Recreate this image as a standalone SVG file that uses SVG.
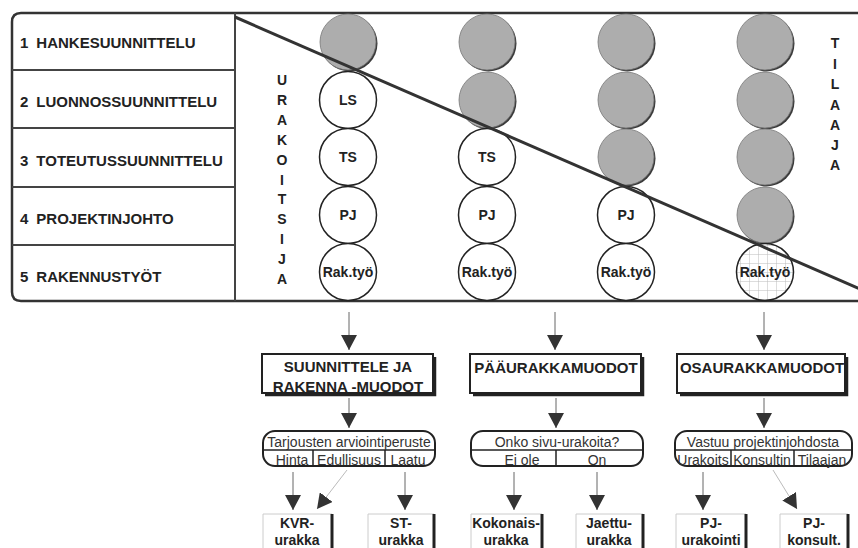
<svg xmlns="http://www.w3.org/2000/svg" width="858" height="548" viewBox="0 0 858 548">
<defs>
  <style>
    .frame { fill: none; stroke: #333; stroke-width: 2.5; }
    .div { stroke: #444; stroke-width: 2; }
    .lbl { font-family: "Liberation Sans", Arial, sans-serif; font-weight: bold; font-size: 15px; fill: #222; }
    .vl { font-family: "Liberation Sans", Arial, sans-serif; font-weight: bold; font-size: 14px; fill: #222; text-anchor: middle; }
    .ct { font-family: "Liberation Sans", Arial, sans-serif; font-weight: bold; font-size: 14px; fill: #222; text-anchor: middle; }
    .wc { fill: #fff; stroke: #222; stroke-width: 1.5; }
    .gc { fill: #adadad; stroke: #777; stroke-width: 0.8; }
    .gs { fill: #3a3a3a; }
    .bt { font-family: "Liberation Sans", Arial, sans-serif; font-weight: bold; font-size: 15px; fill: #222; text-anchor: middle; }
    .box { fill: #fff; stroke: #222; stroke-width: 2; }
    .shadow { fill: none; stroke: #222; stroke-width: 2.5; }
    .dec { fill: #fff; stroke: #222; stroke-width: 2; }
    .dl { stroke: #222; stroke-width: 1.5; }
    .dt { font-family: "Liberation Sans", Arial, sans-serif; font-size: 14px; fill: #333; text-anchor: middle; }
    .fb { fill: #fff; stroke: #ccc; stroke-width: 1; }
    .fbs { stroke: #222; stroke-width: 3; }
    .ft { font-family: "Liberation Sans", Arial, sans-serif; font-weight: bold; font-size: 14px; fill: #222; text-anchor: middle; }
    .arr { stroke: #666; stroke-width: 1; fill: none; marker-end: url(#ah); }
    .arrf { stroke: #bbb; stroke-width: 1; fill: none; marker-end: url(#ah); }
  </style>
  <marker id="ah" markerUnits="userSpaceOnUse" markerWidth="16" markerHeight="16" refX="15" refY="8" orient="auto">
    <path d="M0,0 L15,8 L0,16 z" fill="#333"/>
  </marker>
  <pattern id="grid" patternUnits="userSpaceOnUse" x="2" y="2" width="9" height="9">
    <rect width="9" height="9" fill="#fff"/>
    <path d="M0,0 H9 M0,0 V9" stroke="#bbb" stroke-width="1"/>
  </pattern>
</defs>

<g id="frame">
  <path class="frame" d="M860,13 L21,13 Q12,13 12,22 L12,292 Q12,301 21,301 L860,301"/>
  <line class="div" x1="235" y1="13" x2="235" y2="301"/>
  <line class="div" x1="12" y1="70" x2="235" y2="70"/>
  <line class="div" x1="12" y1="128" x2="235" y2="128"/>
  <line class="div" x1="12" y1="187" x2="235" y2="187"/>
  <line class="div" x1="12" y1="245" x2="235" y2="245"/>
</g>

<g id="phases">
  <text class="lbl" x="20" y="48">1<tspan dx="8">HANKESUUNNITTELU</tspan></text>
  <text class="lbl" x="20" y="107">2<tspan dx="8">LUONNOSSUUNNITTELU</tspan></text>
  <text class="lbl" x="20" y="166">3<tspan dx="8">TOTEUTUSSUUNNITTELU</tspan></text>
  <text class="lbl" x="20" y="224">4<tspan dx="8">PROJEKTINJOHTO</tspan></text>
  <text class="lbl" x="20" y="282">5<tspan dx="8">RAKENNUSTYÖT</tspan></text>
</g>

<g id="urakoitsija">
  <text class="vl" x="282" y="85">U</text>
  <text class="vl" x="282" y="105">R</text>
  <text class="vl" x="282" y="125">A</text>
  <text class="vl" x="282" y="145">K</text>
  <text class="vl" x="282" y="165">O</text>
  <text class="vl" x="282" y="185">I</text>
  <text class="vl" x="282" y="204">T</text>
  <text class="vl" x="282" y="224">S</text>
  <text class="vl" x="282" y="244">I</text>
  <text class="vl" x="282" y="264">J</text>
  <text class="vl" x="282" y="284">A</text>
</g>

<g id="tilaaja">
  <text class="vl" x="835" y="48">T</text>
  <text class="vl" x="835" y="69">I</text>
  <text class="vl" x="835" y="89">L</text>
  <text class="vl" x="835" y="110">A</text>
  <text class="vl" x="835" y="130">A</text>
  <text class="vl" x="835" y="150">J</text>
  <text class="vl" x="835" y="170">A</text>
</g>

<g id="col1">
  <circle class="gs" cx="349.5" cy="43.5" r="28"/>
  <circle class="gc" cx="348" cy="42" r="28"/>
  <circle class="wc" cx="348" cy="100" r="28.5"/>
  <text class="ct" x="348" y="105">LS</text>
  <circle class="wc" cx="348" cy="157" r="28.5"/>
  <text class="ct" x="348" y="162">TS</text>
  <circle class="wc" cx="348" cy="215" r="28.5"/>
  <text class="ct" x="348" y="220">PJ</text>
  <circle class="wc" cx="348" cy="272" r="28.5"/>
  <text class="ct" x="348" y="277">Rak.työ</text>
</g>

<g id="col2">
  <circle class="gs" cx="488.5" cy="43.5" r="28"/>
  <circle class="gc" cx="487" cy="42" r="28"/>
  <circle class="gs" cx="488.5" cy="101.5" r="28"/>
  <circle class="gc" cx="487" cy="100" r="28"/>
  <circle class="wc" cx="487" cy="157" r="28.5"/>
  <text class="ct" x="487" y="162">TS</text>
  <circle class="wc" cx="487" cy="215" r="28.5"/>
  <text class="ct" x="487" y="220">PJ</text>
  <circle class="wc" cx="487" cy="272" r="28.5"/>
  <text class="ct" x="487" y="277">Rak.työ</text>
</g>

<g id="col3">
  <circle class="gs" cx="627.5" cy="43.5" r="28"/>
  <circle class="gc" cx="626" cy="42" r="28"/>
  <circle class="gs" cx="627.5" cy="101.5" r="28"/>
  <circle class="gc" cx="626" cy="100" r="28"/>
  <circle class="gs" cx="627.5" cy="158.5" r="28"/>
  <circle class="gc" cx="626" cy="157" r="28"/>
  <circle class="wc" cx="626" cy="215" r="28.5"/>
  <text class="ct" x="626" y="220">PJ</text>
  <circle class="wc" cx="626" cy="272" r="28.5"/>
  <text class="ct" x="626" y="277">Rak.työ</text>
</g>

<g id="col4">
  <circle class="gs" cx="766.5" cy="43.5" r="28"/>
  <circle class="gc" cx="765" cy="42" r="28"/>
  <circle class="gs" cx="766.5" cy="101.5" r="28"/>
  <circle class="gc" cx="765" cy="100" r="28"/>
  <circle class="gs" cx="766.5" cy="158.5" r="28"/>
  <circle class="gc" cx="765" cy="157" r="28"/>
  <circle class="gs" cx="766.5" cy="216.5" r="28"/>
  <circle class="gc" cx="765" cy="215" r="28"/>
  <circle cx="765" cy="272" r="28.5" fill="url(#grid)" stroke="#222" stroke-width="1.5"/>
  <text class="ct" x="765" y="277">Rak.työ</text>
</g>

<g id="diagonal">
  <line x1="235" y1="17" x2="860" y2="289" stroke="#333" stroke-width="3"/>
</g>

<g id="box-sr">
  <rect class="box" x="262" y="354" width="171" height="39"/>
  <polyline class="shadow" points="265,395 435,395 435,357"/>
  <text class="bt" x="348" y="372">SUUNNITTELE JA</text>
  <text class="bt" x="348" y="392">RAKENNA -MUODOT</text>
</g>
<g id="box-paa">
  <rect class="box" x="470" y="354" width="171" height="39"/>
  <polyline class="shadow" points="473,395 643,395 643,357"/>
  <text class="bt" x="556" y="373">PÄÄURAKKAMUODOT</text>
</g>
<g id="box-osa">
  <rect class="box" x="677" y="354" width="168" height="39"/>
  <polyline class="shadow" points="680,395 847,395 847,357"/>
  <text class="bt" x="762" y="373">OSAURAKKAMUODOT</text>
</g>

<g id="dec-1">
  <rect class="dec" x="263" y="431" width="172" height="35" rx="12"/>
  <line class="dl" x1="263" y1="450" x2="435" y2="450"/>
  <line class="dl" x1="313" y1="450" x2="313" y2="466"/>
  <line class="dl" x1="385" y1="450" x2="385" y2="466"/>
  <text class="dt" x="349" y="447">Tarjousten arviointiperuste</text>
  <text class="dt" x="292" y="465">Hinta</text>
  <text class="dt" x="349" y="465">Edullisuus</text>
  <text class="dt" x="408" y="465">Laatu</text>
</g>
<g id="dec-2">
  <rect class="dec" x="471" y="431" width="172" height="35" rx="12"/>
  <line class="dl" x1="471" y1="450" x2="643" y2="450"/>
  <line class="dl" x1="556" y1="450" x2="556" y2="466"/>
  <text class="dt" x="557" y="447">Onko sivu-urakoita?</text>
  <text class="dt" x="522" y="465">Ei ole</text>
  <text class="dt" x="597" y="465">On</text>
</g>
<g id="dec-3">
  <rect class="dec" x="675" y="431" width="177" height="35" rx="12"/>
  <line class="dl" x1="675" y1="450" x2="852" y2="450"/>
  <line class="dl" x1="731" y1="450" x2="731" y2="466"/>
  <line class="dl" x1="794" y1="450" x2="794" y2="466"/>
  <text class="dt" x="763" y="447">Vastuu projektinjohdosta</text>
  <text class="dt" x="703" y="465">Urakoits</text>
  <text class="dt" x="762" y="465">Konsultin</text>
  <text class="dt" x="822" y="465">Tilaajan</text>
</g>

<g id="res-kvr">
  <path class="fb" d="M263,549 V514 H332"/>
  <line class="fbs" x1="332" y1="514" x2="332" y2="549"/>
  <text class="ft" x="297" y="528">KVR-</text>
  <text class="ft" x="297" y="545">urakka</text>
</g>
<g id="res-st">
  <path class="fb" d="M368,549 V514 H434"/>
  <line class="fbs" x1="434" y1="514" x2="434" y2="549"/>
  <text class="ft" x="401" y="528">ST-</text>
  <text class="ft" x="401" y="545">urakka</text>
</g>
<g id="res-kok">
  <path class="fb" d="M471,549 V514 H542"/>
  <line class="fbs" x1="542" y1="514" x2="542" y2="549"/>
  <text class="ft" x="506" y="528">Kokonais-</text>
  <text class="ft" x="506" y="545">urakka</text>
</g>
<g id="res-jae">
  <path class="fb" d="M576,549 V514 H643"/>
  <line class="fbs" x1="643" y1="514" x2="643" y2="549"/>
  <text class="ft" x="609" y="528">Jaettu-</text>
  <text class="ft" x="609" y="545">urakka</text>
</g>
<g id="res-pju">
  <path class="fb" d="M676,549 V514 H746"/>
  <line class="fbs" x1="746" y1="514" x2="746" y2="549"/>
  <text class="ft" x="711" y="528">PJ-</text>
  <text class="ft" x="711" y="545">urakointi</text>
</g>
<g id="res-pjk">
  <path class="fb" d="M780,549 V514 H848"/>
  <line class="fbs" x1="848" y1="514" x2="848" y2="549"/>
  <text class="ft" x="814" y="528">PJ-</text>
  <text class="ft" x="814" y="545">konsult.</text>
</g>

<g id="connectors">
  <line class="arr" x1="349" y1="312" x2="349" y2="350"/>
  <line class="arr" x1="555" y1="312" x2="555" y2="350"/>
  <line class="arr" x1="764" y1="312" x2="764" y2="350"/>
  <line class="arr" x1="349" y1="398" x2="349" y2="428"/>
  <line class="arr" x1="556" y1="398" x2="556" y2="428"/>
  <line class="arr" x1="764" y1="398" x2="764" y2="428"/>
  <line class="arr" x1="293" y1="472" x2="293" y2="510"/>
  <line class="arrf" x1="347" y1="470" x2="317" y2="509"/>
  <line class="arr" x1="405" y1="472" x2="405" y2="510"/>
  <line class="arr" x1="514" y1="472" x2="514" y2="510"/>
  <line class="arr" x1="597" y1="472" x2="597" y2="510"/>
  <line class="arr" x1="703" y1="472" x2="703" y2="510"/>
  <line class="arrf" x1="773" y1="470" x2="797" y2="509"/>
</g>
</svg>
